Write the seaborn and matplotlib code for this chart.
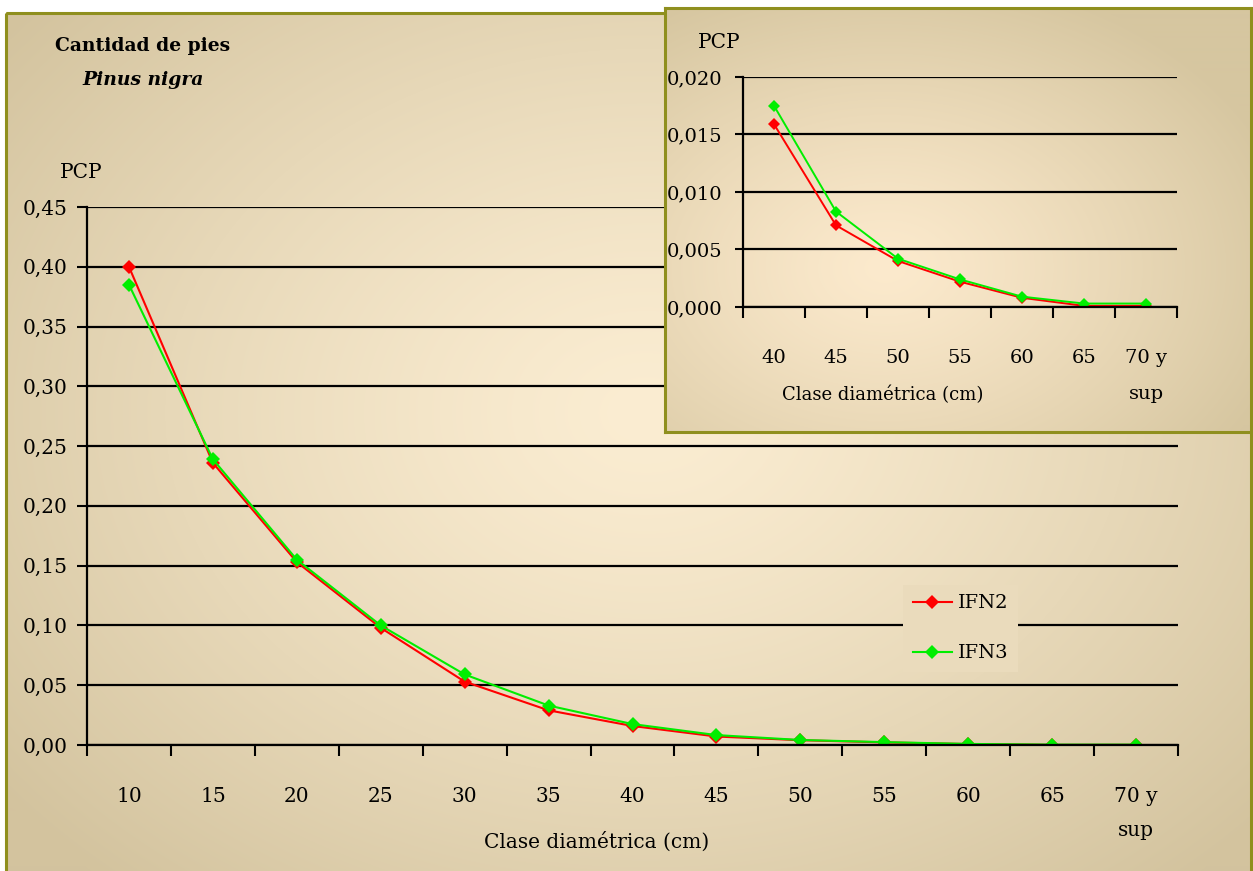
import numpy as np
import pandas as pd
import matplotlib
matplotlib.use("Agg")
import matplotlib.pyplot as plt
import seaborn as sns
from matplotlib.patches import Rectangle
from matplotlib.ticker import FuncFormatter

# ---------------- data ----------------
categories = ['10', '15', '20', '25', '30', '35', '40', '45', '50', '55', '60', '65', '70 y\nsup']
ifn2 = [0.400, 0.236, 0.153, 0.098, 0.053, 0.029, 0.0159, 0.0071, 0.0040, 0.0022, 0.0008, 0.0001, 0.0001]
ifn3 = [0.385, 0.239, 0.155, 0.100, 0.059, 0.033, 0.0175, 0.0083, 0.0042, 0.0024, 0.0009, 0.0003, 0.0003]
series_names = ['IFN2', 'IFN3']
inset_start = 6  # inset shows classes 40 .. 70 y sup
yticks_main = [0.00, 0.05, 0.10, 0.15, 0.20, 0.25, 0.30, 0.35, 0.40, 0.45]
yticks_inset = [0.000, 0.005, 0.010, 0.015, 0.020]

W, H = 1253, 871
FONT = ['DejaVu Serif']
plt.rcParams['font.family'] = FONT
plt.rcParams['text.color'] = 'black'

colors = {'IFN2': '#ff0000', 'IFN3': '#00ee00'}


def make_df(start):
    rows = []
    for name, vals in zip(series_names, [ifn2, ifn3]):
        for i, v in enumerate(vals[start:]):
            rows.append({'pos': i, 'val': v, 'serie': name})
    return pd.DataFrame(rows)


def gradient(h, w, cx, cy, rx, ry, center, edge, power=1.0):
    yy, xx = np.mgrid[0:h, 0:w]
    t = np.sqrt(((xx - cx) / rx) ** 2 + ((yy - cy) / ry) ** 2)
    t = np.clip(t, 0, 1) ** power
    c = np.array(center) / 255.0
    e = np.array(edge) / 255.0
    return c[None, None, :] * (1 - t[..., None]) + e[None, None, :] * t[..., None]


def fx(px):
    return px / W


def fy(py):
    return 1 - py / H


fig = plt.figure(figsize=(W / 100, H / 100), dpi=100)

# ---------------- background of main chart ----------------
ax_bg = fig.add_axes([0, 0, 1, 1], zorder=0)
img = np.ones((H, W, 3))
grad = gradient(H - 13, W - 6, 640, 400, 820, 620, (251, 237, 210), (211, 195, 158), power=1.3)
img[13:, 6:, :] = grad
ax_bg.imshow(img, extent=(0, W, H, 0), aspect='auto', interpolation='bilinear')
ax_bg.set_xlim(0, W)
ax_bg.set_ylim(H, 0)
ax_bg.axis('off')
ax_bg.add_patch(Rectangle((6, 13), W - 8, H - 10, fill=False, edgecolor='#8f8f1e', lw=2.2))
legend_bg = tuple(img[625, 958, :])

# ---------------- main axes ----------------
ax = fig.add_axes([fx(87), fy(745), fx(1178) - fx(87), fy(207) - fy(745)], zorder=1)
ax.patch.set_alpha(0)
df = make_df(0)
sns.lineplot(data=df, x='pos', y='val', hue='serie', hue_order=series_names,
             palette=colors, marker='D', markersize=7.5, markeredgewidth=0,
             linewidth=1.5, ax=ax)
ax.set_xlim(-0.5, len(categories) - 0.5)
ax.set_ylim(0, 0.45)
ax.set_xticks(range(len(categories)))
ax.set_xticklabels(categories, fontsize=14.5, linespacing=2.0)
ax.set_xticks(np.arange(-0.5, len(categories), 1), minor=True)
ax.tick_params(axis='x', which='major', length=0, pad=30)
ax.tick_params(axis='x', which='minor', length=8, width=1.5, direction='out', color='black')
ax.set_yticks(yticks_main)
ax.yaxis.set_major_formatter(FuncFormatter(lambda v, p: f"{v:.2f}".replace('.', ',')))
ax.tick_params(axis='y', length=7, width=1.5, direction='out', pad=7, labelsize=14.5)
ax.grid(axis='y', color='black', linewidth=1.6)
ax.grid(axis='x', visible=False)
for s in ['top', 'right']:
    ax.spines[s].set_visible(False)
for s in ['left', 'bottom']:
    ax.spines[s].set_color('black')
    ax.spines[s].set_linewidth(1.6)
ax.set_xlabel('')
ax.set_ylabel('')
sns.move_legend(ax, 'upper left', bbox_to_anchor=(0.748, 0.298), title=None,
                frameon=True, fontsize=14, handlelength=2.0, labelspacing=1.65,
                borderpad=0.5, handletextpad=0.3, borderaxespad=0)
leg = ax.get_legend()
leg.get_frame().set_facecolor(legend_bg)
leg.get_frame().set_edgecolor('none')
leg.get_frame().set_alpha(1)
leg.get_frame().set_boxstyle('square', pad=0)

fig.text(fx(55), fy(46), 'Cantidad de pies', fontsize=13.5, fontweight='bold', va='center', ha='left')
fig.text(fx(82), fy(80), 'Pinus nigra', fontsize=13.5, fontweight='bold', fontstyle='italic', va='center', ha='left')
fig.text(fx(60), fy(172), 'PCP', fontsize=14.5, va='center', ha='left')
fig.text(fx(597), fy(842), 'Clase diamétrica (cm)', fontsize=14.5, va='center', ha='center')

# ---------------- inset background ----------------
ix0, iy0, ix1, iy1 = 665, 8, 1251, 432
ax_ibg = fig.add_axes([fx(ix0), fy(iy1), fx(ix1) - fx(ix0), fy(iy0) - fy(iy1)], zorder=2)
igrad = gradient(iy1 - iy0, ix1 - ix0, 220, 260, 420, 300, (252, 234, 205), (214, 198, 160), power=1.2)
ax_ibg.imshow(igrad, extent=(0, 1, 0, 1), aspect='auto', interpolation='bilinear')
ax_ibg.set_xlim(0, 1)
ax_ibg.set_ylim(0, 1)
ax_ibg.set_xticks([])
ax_ibg.set_yticks([])
for s in ax_ibg.spines.values():
    s.set_color('#8f8f1e')
    s.set_linewidth(2.2)

# ---------------- inset axes ----------------
axi = fig.add_axes([fx(743), fy(307), fx(1177) - fx(743), fy(77) - fy(307)], zorder=3)
axi.patch.set_alpha(0)
dfi = make_df(inset_start)
sns.lineplot(data=dfi, x='pos', y='val', hue='serie', hue_order=series_names,
             palette=colors, marker='D', markersize=6.5, markeredgewidth=0,
             linewidth=1.4, ax=axi, legend=False)
ninset = len(categories) - inset_start
axi.set_xlim(-0.5, ninset - 0.5)
axi.set_ylim(0, 0.020)
axi.set_xticks(range(ninset))
axi.set_xticklabels(categories[inset_start:], fontsize=14, linespacing=2.3)
axi.set_xticks(np.arange(-0.5, ninset, 1), minor=True)
axi.tick_params(axis='x', which='major', length=0, pad=30)
axi.tick_params(axis='x', which='minor', length=8, width=1.5, direction='out', color='black')
axi.set_yticks(yticks_inset)
axi.yaxis.set_major_formatter(FuncFormatter(lambda v, p: f"{v:.3f}".replace('.', ',')))
axi.tick_params(axis='y', length=6, width=1.5, direction='out', pad=9, labelsize=14)
axi.grid(axis='y', color='black', linewidth=1.6)
axi.grid(axis='x', visible=False)
for s in ['top', 'right']:
    axi.spines[s].set_visible(False)
for s in ['left', 'bottom']:
    axi.spines[s].set_color('black')
    axi.spines[s].set_linewidth(1.6)
axi.set_xlabel('')
axi.set_ylabel('')

fig.text(fx(698), fy(42), 'PCP', fontsize=14.5, va='center', ha='left')
fig.text(fx(883), fy(395), 'Clase diamétrica (cm)', fontsize=13, va='center', ha='center')

fig.savefig('out.png', dpi=100)
